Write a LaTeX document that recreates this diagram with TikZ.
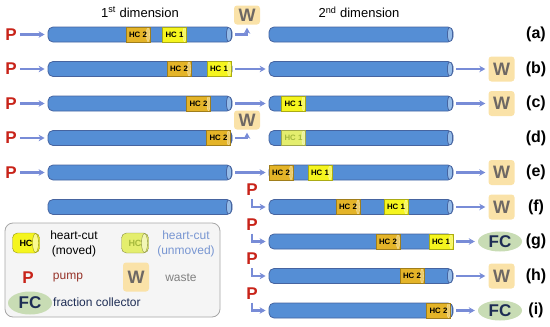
\documentclass[tikz,border=0pt]{standalone}
\usepackage{fontspec}
\setmainfont{Liberation Sans}
\usetikzlibrary{arrows.meta,shapes.geometric}
\definecolor{colbody}{RGB}{85,142,213}
\definecolor{colcap}{RGB}{150,188,232}
\definecolor{colline}{RGB}{70,100,160}
\definecolor{hcone}{RGB}{245,245,30}
\definecolor{hctwo}{RGB}{228,180,40}
\definecolor{hcpale}{RGB}{228,238,110}
\definecolor{paletext}{RGB}{165,185,60}
\definecolor{flowblue}{RGB}{120,140,215}
\definecolor{wastefill}{RGB}{250,226,168}
\definecolor{wastetext}{RGB}{110,104,100}
\definecolor{pumpred}{RGB}{200,35,25}
\definecolor{pumptext}{RGB}{150,50,40}
\definecolor{fcfill}{RGB}{200,220,180}
\definecolor{fctext}{RGB}{30,45,85}
\definecolor{unmovedtext}{RGB}{120,150,210}
\begin{document}
\begin{tikzpicture}[x=1pt,y=-1pt,
col/.style={rectangle,rounded corners=5pt,minimum width=184pt,minimum height=15pt,inner sep=0pt,draw=colline,
  line width=0.8pt,fill=colbody,
  path picture={\draw[colline,fill=colcap]([xshift=-3pt]path picture bounding box.east)ellipse[x radius=2.6pt,y radius=7.5pt];}},
hc/.style={rectangle,minimum width=24pt,minimum height=15pt,inner sep=0pt,draw=#1!70!black,fill=#1,
  font=\bfseries\fontsize{7.8}{8}\selectfont,
  path picture={\draw[#1!40!white,fill=#1!70!white]([xshift=-2pt]path picture bounding box.east)ellipse[x radius=1.6pt,y radius=7pt];}},
icon/.style={rectangle,rounded corners=5pt,minimum width=27pt,minimum height=20pt,inner sep=0pt,draw=#1!60!black,
  fill=#1,font=\bfseries\fontsize{9}{9}\selectfont,
  path picture={\draw[#1!60!black,fill=#1!50!white]([xshift=-4pt]path picture bounding box.east)ellipse[x radius=3pt,y radius=9.5pt];}},
pump/.style={text=pumpred,font=\bfseries\fontsize{17}{17}\selectfont,inner sep=0pt},
wbox/.style={fill=wastefill,rounded corners=3pt,minimum width=26pt,minimum height=25pt,inner sep=0pt,
  text=wastetext,font=\bfseries\fontsize{18}{18}\selectfont},
fc/.style={ellipse,fill=fcfill,minimum width=44pt,minimum height=20pt,inner sep=0pt,text=fctext,
  font=\bfseries\fontsize{17}{17}\selectfont},
flow/.style={draw=flowblue,line width=2.2pt,shorten <=3pt,shorten >=3pt,-{Stealth[length=6pt,width=6.5pt]}},
tag/.style={font=\bfseries\fontsize{16}{16}\selectfont},
legtext/.style={font=\fontsize{12}{15}\selectfont,align=center,inner sep=0pt}]
\useasboundingbox(0,0)rectangle(550,327);
\node(head1)at(140,12){\fontsize{13}{13}\selectfont 1\textsuperscript{st} dimension};
\node(head2)at(359,12){\fontsize{13}{13}\selectfont 2\textsuperscript{nd} dimension};
\node[col](c1a)at(140,34.5){};
\node[col](c2a)at(361,34.5){};
\node[hc=hctwo](a2)at(138,34.5){HC 2};
\node[hc=hcone](a1)at(174.5,34.5){HC 1};
\node[pump](pa)at(11,34.5){P};
\node[wbox,minimum height=19pt](wa)at(247,15){W};
\node[tag](ta)at(536,34.5){(a)};
\draw[flow](pa)--(c1a);
\draw[flow](c1a.east)-|(wa);
\node[col](c1b)at(140,69){};
\node[col](c2b)at(361,69){};
\node[hc=hctwo](b2)at(179,69){HC 2};
\node[hc=hcone](b1)at(219,69){HC 1};
\node[pump](pb)at(11,69){P};
\node[wbox](wb)at(501.5,69){W};
\node[tag](tb)at(536,69){(b)};
\draw[flow](pb)--(c1b);
\draw[flow](c1b)--(c2b);
\draw[flow](c2b)--(wb);
\node[col](c1c)at(140,103.5){};
\node[col](c2c)at(361,103.5){};
\node[hc=hctwo](c2)at(198.5,103.5){HC 2};
\node[hc=hcone](c1)at(293.5,103.5){HC 1};
\node[pump](pc)at(11,103.5){P};
\node[wbox](wc)at(501.5,103.5){W};
\node[tag](tc)at(536,103.5){(c)};
\draw[flow](pc)--(c1c);
\draw[flow](c1c)--(c2c);
\draw[flow](c2c)--(wc);
\node[col](c1d)at(140,138){};
\node[col](c2d)at(361,138){};
\node[hc=hctwo](d2)at(218.5,138){HC 2};
\node[hc=hcpale,text=paletext](d1)at(293.5,138){HC 1};
\node[pump](pd)at(11,138){P};
\node[wbox,minimum height=19pt](wd)at(247,120){W};
\node[tag](td)at(536,138){(d)};
\draw[flow](pd)--(c1d);
\draw[flow](c1d.east)-|(wd);
\node[col](c1e)at(140,172.5){};
\node[col](c2e)at(361,172.5){};
\node[hc=hctwo](e2)at(281,172.5){HC 2};
\node[hc=hcone](e1)at(320,172.5){HC 1};
\node[pump](pe)at(11,172.5){P};
\node[wbox](we)at(501.5,172.5){W};
\node[tag](te)at(536,172.5){(e)};
\draw[flow](pe)--(c1e);
\draw[flow](c1e)--(c2e);
\draw[flow](c2e)--(we);
\node[col](c1f)at(140,207){};
\node[col](c2f)at(361,207){};
\node[hc=hctwo](f2)at(348,207){HC 2};
\node[hc=hcone](f1)at(396,207){HC 1};
\node[pump](pf)at(252,190){P};
\node[wbox](wf)at(501.5,207){W};
\node[tag](tf)at(536,207){(f)};
\draw[flow](pf)|-(c2f);
\draw[flow](c2f)--(wf);
\node[col](c2g)at(361,241.5){};
\node[hc=hctwo](g2)at(388,241.5){HC 2};
\node[hc=hcone](g1)at(441,241.5){HC 1};
\node[pump](pg)at(252,224.5){P};
\node[fc](fcg)at(500,241.5){FC};
\node[tag](tg)at(536,241.5){(g)};
\draw[flow](pg)|-(c2g);
\draw[flow](c2g)--(fcg);
\node[col](c2h)at(361,276){};
\node[hc=hctwo](h2)at(412,276){HC 2};
\node[pump](ph)at(252,259){P};
\node[wbox](wh)at(501.5,276){W};
\node[tag](th)at(536,276){(h)};
\draw[flow](ph)|-(c2h);
\draw[flow](c2h)--(wh);
\node[col](c2i)at(361,310.5){};
\node[hc=hctwo](i2)at(438.5,310.5){HC 2};
\node[pump](pi)at(252,293.5){P};
\node[fc](fci)at(500,310.5){FC};
\node[tag](ti)at(536,310.5){(i)};
\draw[flow](pi)|-(c2i);
\draw[flow](c2i)--(fci);
\draw[draw=gray!70,fill=gray!8,line width=0.8pt,rounded corners=8pt](5,223)rectangle(220,317);
\node[icon=hcone](lhc)at(26,243){HC\hspace{3pt}};
\node[legtext](lmv)at(74,244){heart-cut\\(moved)};
\node[icon=hcpale,text=paletext](lhu)at(135,243){HC\hspace{3pt}};
\node[legtext,text=unmovedtext](lum)at(186,244){heart-cut\\(unmoved)};
\node[pump](lp)at(28,278){P};
\node[legtext,text=pumptext](lpt)at(68,278){pump};
\node[wbox,minimum height=29pt](lw)at(136,277){W};
\node[legtext,text=gray](lwt)at(181,278){waste};
\node[fc,minimum height=23pt](lfc)at(30,303){FC};
\node[legtext,text=fctext,anchor=west](lfct)at(53,302){fraction collector};
\end{tikzpicture}
\end{document}
